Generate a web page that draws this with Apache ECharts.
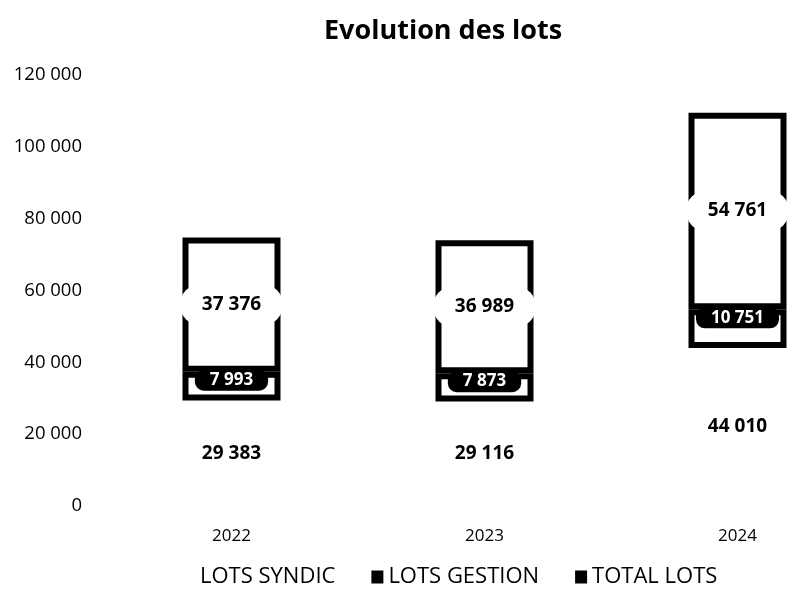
<!DOCTYPE html>
<html>
<head>
<meta charset="utf-8">
<script src="https://cdn.jsdelivr.net/npm/echarts@6/dist/echarts.min.js"></script>
<style>
  html, body { margin: 0; padding: 0; background: #fff; overflow: hidden; }
  /* l'image d'origine coupe le graphique à droite : le canvas déborde */
  #chart { width: 864px; height: 590px; }
</style>
</head>
<body>
<div id="chart"></div>
<script>
// données
const years = ['2022', '2023', '2024'];
const lotsSyndic = [29383, 29116, 44010];
const lotsGestion = [7993, 7873, 10751];
const totalLots = [37376, 36989, 54761];
const yTicks = [0, 20000, 40000, 60000, 80000, 100000, 120000];

const FONT = 'Open Sans';
const fmt = v => String(v).replace(/\B(?=(\d{3})+(?!\d))/g, ' ');

const chart = echarts.init(document.getElementById('chart'));
chart.setOption({
  animation: false,
  backgroundColor: '#fff',
  textStyle: { fontFamily: FONT, color: '#000' },
  title: {
    text: 'Evolution des lots',
    left: 319,
    top: 13,
    textStyle: { fontFamily: FONT, fontSize: 27, fontWeight: 'bold', color: '#000' }
  },
  grid: { left: 105, right: 0, top: 75, bottom: 84 },
  legend: {
    top: 561,
    left: 178,
    icon: 'rect',
    itemWidth: 12,
    itemHeight: 13,
    itemGap: 36,
    textStyle: { fontFamily: FONT, fontSize: 22, color: '#000' },
    data: [
      { name: 'LOTS SYNDIC', itemStyle: { color: 'rgba(0,0,0,0)', borderWidth: 0 } },
      { name: 'LOTS GESTION', itemStyle: { color: '#000', borderWidth: 0 } },
      { name: 'TOTAL LOTS', itemStyle: { color: '#000', borderWidth: 0 } }
    ]
  },
  xAxis: {
    type: 'category',
    data: years,
    axisLine: { show: false },
    axisTick: { show: false },
    axisLabel: { fontFamily: FONT, fontSize: 17, color: '#000', margin: 22 }
  },
  yAxis: {
    type: 'value',
    min: yTicks[0],
    max: yTicks[yTicks.length - 1],
    interval: 20000,
    splitLine: { show: false },
    axisLine: { show: false },
    axisTick: { show: false },
    axisLabel: { fontFamily: FONT, fontSize: 18.5, color: '#000', margin: 23, formatter: v => fmt(v) }
  },
  series: [
    {
      name: 'LOTS SYNDIC',
      type: 'bar',
      stack: 'lots',
      barWidth: 98,
      data: lotsSyndic,
      itemStyle: { color: 'rgba(0,0,0,0)' },
      label: {
        show: true,
        position: 'inside',
        formatter: p => fmt(p.value),
        fontFamily: FONT,
        fontSize: 19,
        fontWeight: 'bold',
        color: '#000'
      }
    },
    {
      name: 'LOTS GESTION',
      type: 'bar',
      stack: 'lots',
      data: lotsGestion,
      itemStyle: { color: '#fff', borderColor: '#000', borderWidth: 6 },
      label: {
        show: true,
        position: 'insideTop',
        distance: -2,
        formatter: p => fmt(p.value),
        fontFamily: FONT,
        fontSize: 17,
        fontWeight: 'bold',
        color: '#fff',
        backgroundColor: '#000',
        borderRadius: 9,
        padding: [2, 15]
      }
    },
    {
      name: 'TOTAL LOTS',
      type: 'bar',
      stack: 'lots',
      data: totalLots,
      itemStyle: { color: '#fff', borderColor: '#000', borderWidth: 6 },
      label: {
        show: true,
        position: 'inside',
        formatter: p => fmt(p.value),
        fontFamily: FONT,
        fontSize: 19,
        fontWeight: 'bold',
        color: '#000',
        backgroundColor: '#fff',
        borderRadius: 22,
        padding: [11, 22]
      }
    }
  ]
});
</script>
</body>
</html>
